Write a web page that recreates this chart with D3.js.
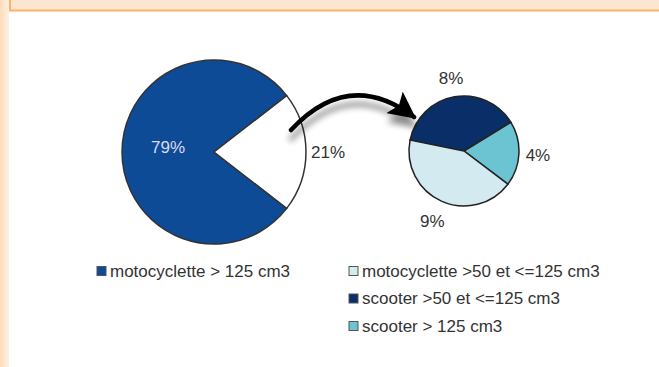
<!DOCTYPE html>
<html>
<head>
<meta charset="utf-8">
<script src="https://cdn.jsdelivr.net/npm/d3@7"></script>
<style>
  body { margin: 0; background: #fff; }
  svg { display: block; font-family: "Liberation Sans", Arial, sans-serif; }
</style>
</head>
<body>
<svg id="chart"></svg>
<script>
// data
const mainCategories = ['motocyclette > 125 cm3', 'autres'];
const mainValues = [79, 21];
const subCategories = ['scooter >50 et <=125 cm3', 'scooter > 125 cm3', 'motocyclette >50 et <=125 cm3'];
const subValues = [8, 4, 9];
const legendLeft = ['motocyclette > 125 cm3'];
const legendRight = ['motocyclette >50 et <=125 cm3', 'scooter >50 et <=125 cm3', 'scooter > 125 cm3'];

const width = 659, height = 367;

const svg = d3.select('#chart')
    .attr('width', width)
    .attr('height', height);

const colors = {
  'motocyclette > 125 cm3': '#0e4b96',
  'autres': '#ffffff',
  'scooter >50 et <=125 cm3': '#0a2f68',
  'scooter > 125 cm3': '#6cc4d3',
  'motocyclette >50 et <=125 cm3': '#d3eaf0'
};

// page frame (left strip + top band)
const defs = svg.append('defs');
const grad = defs.append('linearGradient').attr('id', 'strip');
grad.append('stop').attr('offset', '0%').attr('stop-color', '#fddcbc');
grad.append('stop').attr('offset', '100%').attr('stop-color', '#fef0e2');

svg.append('rect').attr('x', 0).attr('y', 0).attr('width', 9).attr('height', height).attr('fill', 'url(#strip)');
svg.append('rect').attr('x', 9).attr('y', 0).attr('width', width - 9).attr('height', 10).attr('fill', '#fde6cf');
svg.append('line').attr('x1', 9).attr('x2', width).attr('y1', 10.5).attr('y2', 10.5)
    .attr('stroke', '#fbb26b').attr('stroke-width', 2);
svg.append('line').attr('x1', 10).attr('x2', 10).attr('y1', 0).attr('y2', 11)
    .attr('stroke', '#fbb26b').attr('stroke-width', 2);

// shadow filter for the arrow
const shadow = defs.append('filter').attr('id', 'shadow')
    .attr('x', '-20%').attr('y', '-50%').attr('width', '140%').attr('height', '250%');
shadow.append('feGaussianBlur').attr('in', 'SourceAlpha').attr('stdDeviation', 3).attr('result', 'blur');
shadow.append('feOffset').attr('dx', 0).attr('dy', 9).attr('result', 'off');
shadow.append('feComponentTransfer').append('feFuncA').attr('type', 'linear').attr('slope', 0.45);
const merge = shadow.append('feMerge');
merge.append('feMergeNode');
merge.append('feMergeNode').attr('in', 'SourceGraphic');

defs.append('marker')
    .attr('id', 'head')
    .attr('viewBox', '0 -5 10 10')
    .attr('refX', 9)
    .attr('refY', 0)
    .attr('markerWidth', 6)
    .attr('markerHeight', 6)
    .attr('orient', 'auto')
  .append('path')
    .attr('d', 'M0,-5L10,0L0,5L2,0Z')
    .attr('fill', '#000');

// big pie
const bigC = [214, 152], bigR = 92;
const bigPie = d3.pie().sort(null)
    .startAngle(Math.PI / 2 + Math.PI * 0.21)
    .endAngle(Math.PI / 2 + Math.PI * 0.21 + 2 * Math.PI);
const bigArc = d3.arc().innerRadius(0).outerRadius(bigR);

const gBig = svg.append('g').attr('transform', `translate(${bigC})`);
const bigData = bigPie(mainValues);
gBig.selectAll('path')
    .data(bigData)
    .enter()
    .append('path')
    .attr('d', bigArc)
    .attr('fill', (d, i) => colors[mainCategories[i]])
    .attr('stroke', '#333')
    .attr('stroke-width', 1.5);

gBig.selectAll('text.lbl')
    .data(bigData)
    .enter()
    .append('text')
    .attr('class', 'lbl')
    .attr('transform', (d, i) => {
      const a = (d.startAngle + d.endAngle) / 2;
      const r = i === 0 ? 46 : bigR + 22;
      return `translate(${r * Math.sin(a)}, ${-r * Math.cos(a) - (i === 0 ? 5 : 0)})`;
    })
    .attr('dy', '0.36em')
    .attr('text-anchor', 'middle')
    .attr('font-size', '17px')
    .attr('fill', (d, i) => i === 0 ? '#d9d9f2' : '#333')
    .text(d => d.data + '%');

// small pie
const subC = [464, 151], subR = 55;
const subStart = -78.6 * Math.PI / 180;
const subPie = d3.pie().sort(null)
    .startAngle(subStart)
    .endAngle(subStart + 2 * Math.PI);
const subArc = d3.arc().innerRadius(0).outerRadius(subR);
const subData = subPie(subValues);

const gSub = svg.append('g').attr('transform', `translate(${subC})`);
gSub.selectAll('path')
    .data(subData)
    .enter()
    .append('path')
    .attr('d', subArc)
    .attr('fill', (d, i) => colors[subCategories[i]])
    .attr('stroke', '#222')
    .attr('stroke-width', 1.5);

gSub.selectAll('text')
    .data(subData)
    .enter()
    .append('text')
    .attr('transform', (d, i) => {
      const a = (d.startAngle + d.endAngle) / 2;
      const r = subR + (i === 2 ? 22 : 19);
      return `translate(${r * Math.sin(a)}, ${-r * Math.cos(a)})`;
    })
    .attr('dy', '0.36em')
    .attr('text-anchor', 'middle')
    .attr('font-size', '17px')
    .attr('fill', '#333')
    .text(d => d.data + '%');

// connecting arrow, from the white slice to the small pie
const p0 = [bigC[0] + 77, bigC[1] - 22];
const p2 = [subC[0] - 50, subC[1] - 34];
const ctrl = [p0[0] + 58, p0[1] - 62];
svg.append('path')
    .attr('d', `M${p0}Q${ctrl} ${p2}`)
    .attr('fill', 'none')
    .attr('stroke', '#000')
    .attr('stroke-width', 4.5)
    .attr('stroke-linecap', 'round')
    .attr('marker-end', 'url(#head)')
    .attr('filter', 'url(#shadow)');

// legends
function drawLegend(items, x, y0, step) {
  const g = svg.append('g');
  const rows = g.selectAll('g')
      .data(items)
      .enter()
      .append('g')
      .attr('transform', (d, i) => `translate(${x}, ${y0 + i * step})`);
  rows.append('rect')
      .attr('x', 0).attr('y', -4.5)
      .attr('width', 9).attr('height', 9)
      .attr('fill', d => colors[d])
      .attr('stroke', '#555')
      .attr('stroke-width', 1);
  rows.append('text')
      .attr('x', 13)
      .attr('dy', '0.35em')
      .attr('font-size', '17px')
      .attr('fill', '#333')
      .text(d => d);
}
drawLegend(legendLeft, 97, 271, 27.5);
drawLegend(legendRight, 349, 271, 27.5);
</script>
</body>
</html>
